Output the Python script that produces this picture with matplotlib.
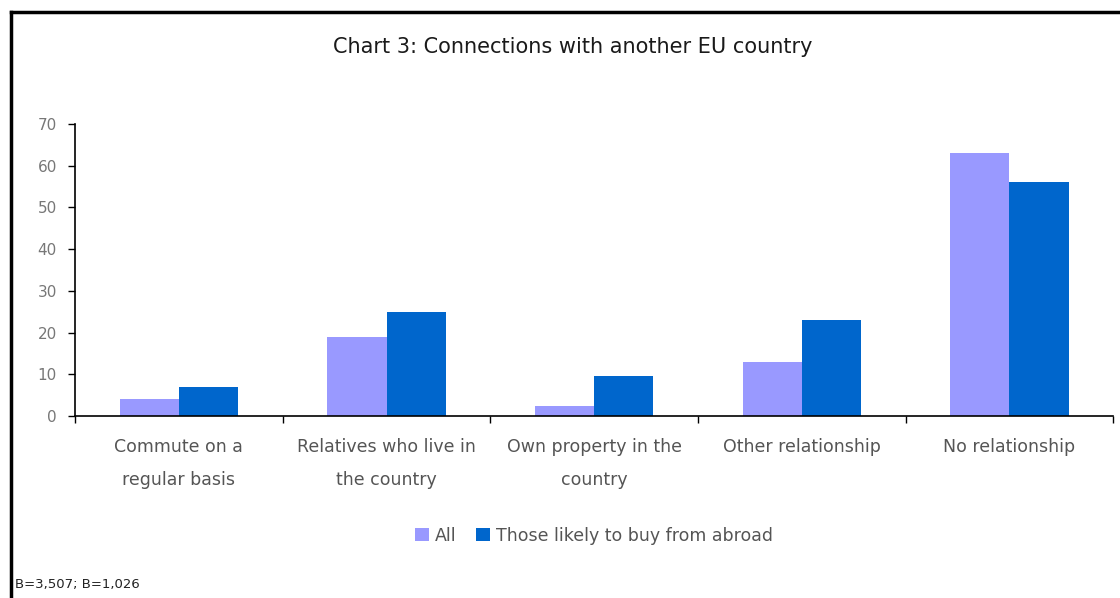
import numpy as np
import matplotlib
matplotlib.use('Agg')
from matplotlib import pyplot as plt
from matplotlib.lines import Line2D

categories = ['Commute on a\nregular basis', 'Relatives who live in\nthe country',
              'Own property in the\ncountry', 'Other relationship', 'No relationship']
all_vals = [4, 19, 2.5, 13, 63]
likely_vals = [7, 25, 9.5, 23, 56]
series_names = ['All', 'Those likely to buy from abroad']
yticks = [0, 10, 20, 30, 40, 50, 60, 70]

plt.rcParams['font.family'] = ['DejaVu Sans']

fig = plt.figure(figsize=(11.2, 5.98), dpi=100)
ax = fig.add_axes([0.067, 0.3043, 0.927, 0.4883])

x = np.arange(len(categories))
w = 0.285
ax.bar(x - w/2, all_vals, w, color='#9999FF', label=series_names[0])
ax.bar(x + w/2, likely_vals, w, color='#0066CC', label=series_names[1])

ax.set_xlim(-0.5, len(categories) - 0.5)
ax.set_ylim(0, 70)
ax.set_yticks(yticks)
ax.tick_params(axis='y', labelsize=11, labelcolor='#777777', length=5, width=1, pad=8)

# category labels sit between boundary ticks
ax.set_xticks(np.arange(len(categories) + 1) - 0.5)
ax.set_xticklabels([])
ax.tick_params(axis='x', length=5, width=1)
for i, lab in enumerate(categories):
    ax.annotate(lab, xy=(i, 0), xycoords=('data', 'axes fraction'), xytext=(0, -16),
                textcoords='offset points', ha='center', va='top', fontsize=12.5,
                color='#555555', linespacing=2.05)

for s in ['top', 'right']:
    ax.spines[s].set_visible(False)
ax.spines['left'].set_linewidth(1.2)
ax.spines['bottom'].set_linewidth(1.2)

fig.text(0.511, 0.921, 'Chart 3: Connections with another EU country', ha='center', va='center',
         fontsize=15, color='#1a1a1a')

ax.legend(loc='center', bbox_to_anchor=(0.5, -0.41), ncol=2, frameon=False, fontsize=12.5,
          handlelength=0.8, handleheight=0.8, handletextpad=0.35, columnspacing=1.1,
          labelcolor='#555555')

fig.text(0.013, 0.022, 'B=3,507; B=1,026', fontsize=9.5, ha='left', va='center', color='#222222')

# chart frame: top and left edges only
fig.add_artist(Line2D([0.0098, 1.0], [0.98, 0.98], color='black', lw=2.5, transform=fig.transFigure))
fig.add_artist(Line2D([0.0098, 0.0098], [0.0, 0.98], color='black', lw=2.5, transform=fig.transFigure))

fig.savefig('out.png', dpi=100)
